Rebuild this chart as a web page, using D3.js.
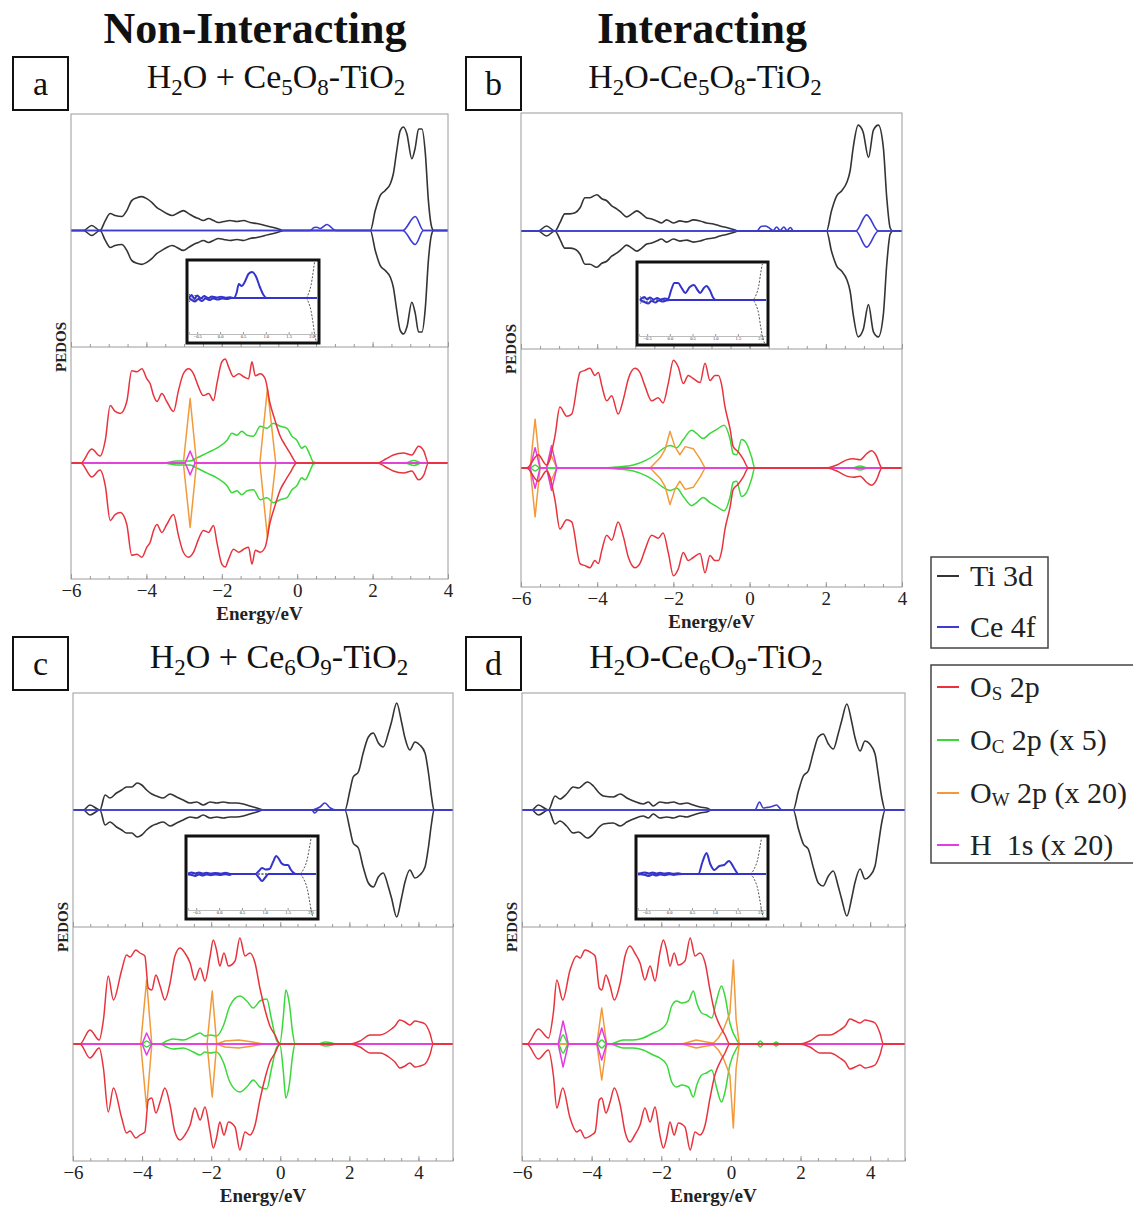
<!DOCTYPE html>
<html><head><meta charset="utf-8">
<script src="https://cdn.jsdelivr.net/npm/d3@7"></script>
<style>body{margin:0;background:#fff}svg{display:block}text{font-family:"Liberation Serif","Times New Roman",serif}</style>
</head><body>
<svg id="c" width="1133" height="1208"></svg>
<script>
// ---------------- DATA (energy eV, PEDOS arb. units) ----------------
// Panel a : H2O + Ce5O8-TiO2
const a_Ti3d = [[-6,0],[-5.67,0],[-5.45,0.5],[-5.23,0],[-5.09,1.0],[-4.96,1.7],[-4.83,1.5],[-4.65,1.4],[-4.52,2.0],[-4.39,3.0],[-4.25,3.3],[-4.12,3.4],[-3.99,3.2],[-3.85,2.8],[-3.72,2.3],[-3.59,2.0],[-3.46,1.7],[-3.32,1.5],[-3.19,1.7],[-3.02,2.0],[-2.88,1.7],[-2.75,1.4],[-2.62,1.2],[-2.49,1.0],[-2.35,1.2],[-2.22,1.0],[-2.09,0.8],[-1.95,0.9],[-1.78,1.0],[-1.60,0.9],[-1.42,1.0],[-1.25,0.8],[-1.07,0.7],[-0.85,0.5],[-0.63,0.3],[-0.45,0.1],[-0.36,0],[1.94,0],[2.07,2.0],[2.20,3.5],[2.33,4.0],[2.47,4.7],[2.55,5.7],[2.64,8.0],[2.73,10.0],[2.82,10.4],[2.91,9.7],[3.04,7.2],[3.13,8.3],[3.22,10.2],[3.31,10.2],[3.40,7.7],[3.48,3.0],[3.57,0.3],[3.62,0],[4,0]];
const a_Ce4f_up = [[-6,0],[0.34,0],[0.45,0.3],[0.52,0.33],[0.61,0.2],[0.70,0.4],[0.79,0.6],[0.88,0.4],[0.95,0.15],[1.03,0],[2.80,0],[3.13,1.4],[3.35,0],[4,0]];
const a_Ce4f_dn = [[-6,0],[2.80,0],[3.13,1.4],[3.35,0],[4,0]];
const a_Os2p = [[-6,0],[-5.74,0],[-5.45,1.4],[-5.23,0.7],[-5.09,2.3],[-4.96,5.8],[-4.83,5.2],[-4.69,5.0],[-4.52,6.2],[-4.39,9.3],[-4.25,9.2],[-4.12,9.5],[-3.99,8.5],[-3.90,8.0],[-3.81,6.8],[-3.72,6.2],[-3.59,7.0],[-3.46,6.2],[-3.28,5.2],[-3.15,7.3],[-3.02,9.0],[-2.88,9.5],[-2.75,9.0],[-2.62,7.7],[-2.49,6.8],[-2.35,7.0],[-2.22,6.3],[-2.13,8.0],[-2.00,10.2],[-1.91,10.5],[-1.82,9.7],[-1.69,8.7],[-1.55,9.0],[-1.42,8.7],[-1.29,8.5],[-1.20,10.2],[-1.11,8.8],[-0.98,9.0],[-0.85,8.5],[-0.72,6.0],[-0.58,4.2],[-0.45,2.7],[-0.32,1.8],[-0.19,1.0],[-0.01,0],[2.12,0],[2.35,0.4],[2.55,0.8],[2.82,1.0],[3.04,0.8],[3.22,1.7],[3.36,1.2],[3.48,0],[4,0]];
const a_Oc2p = [[-6,0],[-3.55,0],[-3.2,0.2],[-2.84,0.2],[-2.67,0.5],[-2.40,1.0],[-2.13,1.5],[-1.86,2.3],[-1.73,3.0],[-1.60,2.8],[-1.47,3.2],[-1.33,2.8],[-1.16,2.7],[-0.98,3.7],[-0.80,3.5],[-0.63,4.0],[-0.45,3.7],[-0.27,3.5],[-0.14,2.7],[-0.01,2.3],[0.12,1.5],[0.21,1.7],[0.34,0.8],[0.43,0.1],[0.55,0],[2.85,0],[3.1,0.25],[3.3,0],[4,0]];
const a_Ow2p = [[-6,0],[-3.02,0],[-2.84,6.5],[-2.67,0],[-0.99,0],[-0.79,7.5],[-0.57,0],[4,0]];
const a_H1s = [[-6,0],[-2.97,0],[-2.84,1.2],[-2.71,0],[4,0]];
const inA_Ce_up = [[-0.68,0],[-0.62,0.3],[-0.56,-0.1],[-0.5,0.25],[-0.42,-0.05],[-0.35,0.2],[-0.26,0.0],[-0.18,0.15],[-0.08,0.05],[0.02,0.12],[0.12,0.02],[0.22,0.08],[0.30,0],[0.36,0.5],[0.41,1.4],[0.47,1.2],[0.55,1.7],[0.62,2.4],[0.70,2.6],[0.78,2.2],[0.87,1.1],[0.95,0.3],[1.02,0],[2.12,0]];
const inA_Ce_dn = [[-0.68,0],[-0.62,0.2],[-0.55,0.35],[-0.48,0.1],[-0.4,0.3],[-0.32,0.05],[-0.24,0.2],[-0.15,0.05],[-0.05,0.15],[0.05,0.05],[0.15,0.1],[0.25,0.0],[0.3,0],[2.12,0]];
const inA_Ti = [[-0.68,0.4],[-0.62,0.1],[-0.55,0.25],[-0.45,0.05],[-0.35,0],[1.87,0],[1.94,0.5],[1.99,1.3],[2.03,2.4],[2.06,3.4],[2.12,4.6]];

// Panel b : H2O-Ce5O8-TiO2
const b_Ti3d = [[-6,0],[-5.55,0],[-5.33,0.5],[-5.11,0],[-4.98,0.8],[-4.85,1.7],[-4.72,1.7],[-4.58,1.8],[-4.45,2.3],[-4.32,3.3],[-4.19,3.3],[-4.01,3.6],[-3.88,3.2],[-3.75,3.0],[-3.62,2.5],[-3.49,2.2],[-3.36,1.8],[-3.23,1.4],[-3.09,1.7],[-2.96,2.0],[-2.83,1.7],[-2.70,1.3],[-2.57,1.2],[-2.44,1.0],[-2.31,0.8],[-2.18,1.1],[-2.0,0.8],[-1.83,1.0],[-1.65,0.9],[-1.48,1.1],[-1.30,1.0],[-1.13,0.8],[-0.95,0.7],[-0.78,0.5],[-0.56,0.3],[-0.38,0.1],[-0.30,0],[2.02,0],[2.15,2.0],[2.29,3.5],[2.42,4.0],[2.55,4.8],[2.64,6.0],[2.72,8.3],[2.85,10.5],[2.98,9.8],[3.12,7.3],[3.25,10.0],[3.38,10.5],[3.51,8.3],[3.60,3.3],[3.69,0.3],[3.76,0],[4,0]];
const b_Ce4f_up = [[-6,0],[0.19,0],[0.30,0.45],[0.42,0.5],[0.55,0.2],[0.62,0.05],[0.71,0.4],[0.80,0.05],[0.90,0.4],[0.98,0.05],[1.07,0.35],[1.15,0],[2.79,0],[3.07,1.6],[3.38,0],[4,0]];
const b_Ce4f_dn = [[-6,0],[2.79,0],[3.07,1.6],[3.38,0],[4,0]];
const b_Os2p = [[-6,0],[-5.85,0],[-5.55,1.3],[-5.33,0.3],[-5.11,3.1],[-4.98,6.0],[-4.80,5.1],[-4.67,5.3],[-4.45,9.4],[-4.32,9.6],[-4.19,9.8],[-4.06,9.1],[-3.97,9.4],[-3.88,8.1],[-3.75,6.6],[-3.62,7.1],[-3.45,5.3],[-3.31,6.8],[-3.18,8.8],[-3.01,9.8],[-2.88,9.4],[-2.75,8.1],[-2.57,6.6],[-2.40,6.9],[-2.27,6.4],[-2.13,8.4],[-2.0,10.6],[-1.87,9.9],[-1.74,8.3],[-1.61,9.1],[-1.48,8.8],[-1.30,8.4],[-1.17,10.3],[-1.04,8.6],[-0.91,9.1],[-0.82,9.1],[-0.73,8.1],[-0.65,6.1],[-0.51,3.8],[-0.43,2.1],[-0.30,1.6],[-0.17,0.9],[-0.03,0],[2.02,0],[2.29,0.3],[2.55,0.8],[2.72,0.9],[2.90,0.8],[3.07,1.4],[3.20,1.7],[3.34,1.1],[3.42,0.3],[3.47,0],[4,0]];
const b_Oc2p = [[-6,0],[-5.76,0],[-5.63,0.3],[-5.5,0],[-3.93,0],[-3.49,0.1],[-3.05,0.3],[-2.70,0.8],[-2.44,1.4],[-2.27,1.9],[-2.09,2.2],[-1.91,2.0],[-1.74,2.8],[-1.52,3.7],[-1.39,3.4],[-1.22,2.9],[-1.04,3.4],[-0.86,3.8],[-0.67,4.2],[-0.51,2.8],[-0.43,1.4],[-0.34,1.3],[-0.21,2.8],[-0.08,2.4],[0.05,1.1],[0.14,0],[2.7,0],[2.9,0.2],[3.1,0],[4,0]];
const b_Ow2p = [[-6,0],[-5.76,0],[-5.63,4.8],[-5.50,0],[-5.33,0],[-5.2,1.2],[-5.06,0],[-2.61,0],[-2.35,1.0],[-2.22,1.8],[-2.09,3.6],[-1.96,2.1],[-1.83,1.3],[-1.69,2.1],[-1.48,1.9],[-1.30,0.9],[-1.17,0],[4,0]];
const b_H1s = [[-6,0],[-5.76,0],[-5.63,2.0],[-5.50,0],[-5.33,0],[-5.20,2.2],[-5.06,0],[4,0]];
const inB_Ce_up = [[-0.66,0],[-0.56,0.3],[-0.5,0.05],[-0.44,0.25],[-0.36,0.05],[-0.28,0.2],[-0.2,0.05],[-0.12,0.15],[-0.04,0.1],[0.03,1.0],[0.10,1.7],[0.18,1.7],[0.26,1.2],[0.34,0.7],[0.44,1.3],[0.53,1.5],[0.61,1.0],[0.67,0.7],[0.75,1.2],[0.81,1.4],[0.88,1.0],[0.96,0.2],[1.02,0],[2.12,0]];
const inB_Ce_dn = [[-0.66,0],[-0.56,0.2],[-0.48,0.35],[-0.4,0.1],[-0.32,0.25],[-0.24,0.05],[-0.16,0.15],[-0.08,0.05],[0.0,0],[2.12,0]];
const inB_Ti = [[-0.66,0.35],[-0.55,0.1],[-0.48,0.2],[-0.4,0],[1.82,0],[1.9,0.5],[1.96,1.4],[2.0,2.6],[2.04,3.6],[2.12,4.6]];

// Panel c : H2O + Ce6O9-TiO2
const c_Ti3d = [[-6,0],[-5.70,0],[-5.51,0.5],[-5.22,0],[-5.07,1.5],[-4.93,1.2],[-4.74,1.7],[-4.59,2.0],[-4.45,2.3],[-4.30,2.3],[-4.14,2.7],[-4.01,2.5],[-3.87,2.0],[-3.72,1.6],[-3.58,1.4],[-3.39,1.2],[-3.19,1.6],[-3.0,1.3],[-2.81,1.0],[-2.61,0.7],[-2.42,0.8],[-2.23,0.5],[-2.03,0.8],[-1.84,0.7],[-1.65,0.8],[-1.46,0.7],[-1.27,0.7],[-1.07,0.6],[-0.88,0.4],[-0.68,0.2],[-0.49,0],[1.87,0],[2.02,2.0],[2.11,3.3],[2.26,3.8],[2.40,5.7],[2.55,7.3],[2.69,7.7],[2.84,6.7],[2.98,6.3],[3.13,7.7],[3.22,8.8],[3.37,10.7],[3.51,8.8],[3.61,7.2],[3.75,6.0],[3.90,6.8],[4.04,6.5],[4.19,5.7],[4.29,3.7],[4.38,1.3],[4.45,0],[5,0]];
const c_Ce4f_up = [[-6,0],[0.91,0],[1.05,0.15],[1.15,0.3],[1.29,0.7],[1.45,0.2],[1.63,0],[5,0]];
const c_Ce4f_dn = [[-6,0],[0.91,0],[1.0,0.3],[1.10,0],[5,0]];
const c_Os2p = [[-6,0],[-5.80,0],[-5.51,1.4],[-5.24,0.4],[-5.12,2.4],[-4.98,6.8],[-4.83,4.4],[-4.59,7.4],[-4.45,8.9],[-4.35,8.7],[-4.18,9.4],[-4.06,9.1],[-3.92,8.8],[-3.82,5.6],[-3.72,5.4],[-3.60,6.9],[-3.48,5.8],[-3.34,4.4],[-3.19,6.1],[-3.05,8.8],[-2.90,9.6],[-2.76,9.1],[-2.61,8.1],[-2.47,6.4],[-2.32,7.6],[-2.18,6.3],[-2.03,8.8],[-1.94,10.4],[-1.84,9.3],[-1.75,7.8],[-1.63,9.1],[-1.50,7.8],[-1.31,8.3],[-1.17,10.6],[-1.02,8.8],[-0.88,9.1],[-0.73,8.1],[-0.59,5.6],[-0.44,3.4],[-0.30,1.8],[-0.15,0.9],[-0.01,0],[2.02,0],[2.31,0.3],[2.60,0.9],[2.89,0.9],[3.18,1.4],[3.32,1.8],[3.46,2.4],[3.61,2.2],[3.75,1.9],[3.90,2.3],[4.04,2.2],[4.19,2.0],[4.33,1.1],[4.43,0],[5,0]];
const c_Oc2p = [[-6,0],[-4.0,0],[-3.87,0.3],[-3.72,0],[-3.48,0],[-3.29,0.3],[-3.10,0.5],[-2.81,0.4],[-2.52,0.8],[-2.32,1.1],[-2.18,0.8],[-2.03,0.9],[-1.84,0.8],[-1.65,1.8],[-1.46,3.8],[-1.17,4.8],[-0.97,4.3],[-0.78,3.6],[-0.59,4.3],[-0.39,4.5],[-0.25,2.4],[-0.10,0.3],[-0.01,0.1],[0.09,2.8],[0.16,5.4],[0.26,4.1],[0.36,1.1],[0.43,0],[1.1,0],[1.3,0.2],[1.5,0.1],[1.6,0],[5,0]];
const c_Ow2p = [[-6,0],[-4.04,0],[-3.87,6.4],[-3.72,0],[-2.12,0],[-1.97,5.3],[-1.84,0],[-1.6,0.3],[-1.2,0.4],[-0.8,0.2],[-0.5,0],[5,0]];
const c_H1s = [[-6,0],[-4.00,0],[-3.87,1.1],[-3.72,0],[5,0]];
const inC_Ce_up = [[-0.68,0],[-0.6,0.15],[-0.52,0.05],[-0.44,0.15],[-0.36,0.05],[-0.28,0.12],[-0.18,0.04],[-0.08,0.1],[0.04,0.03],[0.14,0.12],[0.22,0.03],[0.28,0],[0.80,0],[0.87,0.3],[0.94,0.6],[1.02,0.45],[1.10,0.5],[1.18,1.2],[1.25,1.8],[1.31,1.5],[1.36,1.1],[1.44,0.9],[1.51,0.9],[1.56,0.5],[1.61,0.2],[1.68,0],[2.12,0]];
const inC_Ce_dn = [[-0.68,0],[-0.6,0.1],[-0.52,0.2],[-0.44,0.05],[-0.36,0.15],[-0.28,0.05],[-0.18,0.12],[-0.08,0.04],[0.04,0.1],[0.14,0.03],[0.22,0.1],[0.28,0],[0.80,0],[0.87,0.35],[0.94,0.7],[1.01,0.35],[1.08,0],[2.12,0]];
const inC_Ti = [[-0.68,0.1],[-0.5,0.05],[-0.3,0],[1.75,0],[1.85,0.5],[1.93,1.5],[1.99,3.0],[2.03,4.0],[2.12,4.6]];

// Panel d : H2O-Ce6O9-TiO2
const d_Ti3d = [[-6,0],[-5.72,0],[-5.53,0.5],[-5.24,0],[-5.05,1.4],[-4.91,1.1],[-4.72,1.6],[-4.53,2.3],[-4.38,2.2],[-4.12,2.8],[-3.95,2.4],[-3.81,1.8],[-3.66,1.4],[-3.38,1.3],[-3.18,1.6],[-2.99,1.2],[-2.80,0.9],[-2.52,0.6],[-2.37,0.8],[-2.23,0.4],[-2.04,0.8],[-1.84,0.7],[-1.65,0.8],[-1.46,0.6],[-1.27,0.7],[-1.08,0.5],[-0.89,0.3],[-0.70,0.2],[-0.55,0],[1.79,0],[1.94,1.9],[2.08,3.4],[2.22,3.9],[2.37,5.8],[2.51,7.3],[2.65,7.6],[2.80,6.6],[2.94,6.1],[3.08,7.6],[3.18,8.9],[3.33,10.6],[3.47,8.8],[3.56,7.3],[3.71,5.9],[3.85,6.9],[3.99,6.6],[4.14,5.6],[4.23,3.6],[4.33,1.3],[4.43,0],[5,0]];
const d_Ce4f_up = [[-6,0],[0.69,0],[0.82,0.8],[0.93,0.2],[1.02,0.25],[1.12,0.3],[1.22,0.4],[1.31,0.5],[1.40,0.2],[1.46,0],[5,0]];
const d_Ce4f_dn = [[-6,0],[5,0]];
const d_Os2p = [[-6,0],[-5.86,0],[-5.53,1.5],[-5.24,0.6],[-5.10,3.1],[-5.00,6.4],[-4.83,4.4],[-4.62,7.4],[-4.43,8.8],[-4.33,8.6],[-4.19,9.4],[-4.00,9.1],[-3.90,8.8],[-3.78,5.6],[-3.71,5.4],[-3.59,6.9],[-3.47,5.8],[-3.35,4.4],[-3.18,6.1],[-3.04,8.8],[-2.90,9.8],[-2.76,9.1],[-2.61,8.1],[-2.47,6.4],[-2.32,7.8],[-2.18,6.3],[-2.04,9.1],[-1.94,10.4],[-1.84,9.3],[-1.75,7.8],[-1.63,9.1],[-1.51,7.9],[-1.32,8.3],[-1.17,10.6],[-1.03,8.8],[-0.89,9.1],[-0.74,8.1],[-0.60,5.4],[-0.46,3.1],[-0.31,1.8],[-0.17,0.9],[-0.03,0],[1.98,0],[2.27,0.3],[2.56,0.9],[2.85,0.9],[3.13,1.4],[3.28,1.8],[3.42,2.5],[3.57,2.3],[3.71,2.1],[3.85,2.4],[3.99,2.3],[4.14,2.1],[4.28,1.1],[4.38,0],[5,0]];
const d_Oc2p = [[-6,0],[-4.96,0],[-4.82,0.9],[-4.67,0],[-3.85,0],[-3.71,0.4],[-3.57,0],[-3.47,0],[-3.09,0.4],[-2.80,0.4],[-2.52,0.6],[-2.23,1.1],[-2.04,1.4],[-1.84,2.1],[-1.70,3.8],[-1.56,4.3],[-1.41,4.1],[-1.22,4.3],[-1.08,5.3],[-0.98,4.1],[-0.84,3.1],[-0.70,2.9],[-0.55,2.6],[-0.41,4.4],[-0.27,5.8],[-0.17,4.8],[-0.03,2.1],[0.17,0.4],[0.26,0],[0.75,0],[0.84,0.3],[0.95,0],[1.2,0],[1.3,0.2],[1.4,0],[5,0]];
const d_Ow2p = [[-6,0],[-3.85,0],[-3.71,3.6],[-3.57,0],[-1.4,0],[-1.0,0.4],[-0.7,0.2],[-0.50,0.1],[-0.36,0.6],[-0.22,1.4],[-0.03,3.1],[0.07,8.4],[0.15,2.4],[0.24,0],[5,0]];
const d_H1s = [[-6,0],[-4.96,0],[-4.82,2.3],[-4.67,0],[-3.85,0],[-3.71,1.6],[-3.57,0],[5,0]];
const inD_Ce_up = [[-0.68,0],[-0.52,0.15],[-0.44,0.05],[-0.36,0.15],[-0.28,0.05],[-0.2,0.12],[-0.1,0.04],[0.0,0.1],[0.1,0.03],[0.2,0.08],[0.3,0],[0.64,0],[0.73,1.2],[0.82,2.1],[0.90,1.0],[0.99,0.4],[1.10,0.8],[1.2,0.9],[1.31,1.3],[1.42,0.6],[1.52,0],[2.12,0]];
const inD_Ce_dn = [[-0.68,0],[-0.52,0.1],[-0.44,0.2],[-0.36,0.05],[-0.28,0.15],[-0.2,0.05],[-0.1,0.12],[0.0,0.03],[0.1,0.1],[0.2,0.03],[0.3,0],[2.12,0]];
const inD_Ti = [[-0.68,0.1],[-0.4,0],[1.77,0],[1.86,0.5],[1.94,1.5],[2.0,3.0],[2.04,4.0],[2.12,4.6]];

// Text / labels
const headers = ["Non-Interacting", "Interacting"];
const titleA = [["H"],["2",1],["O + Ce"],["5",1],["O"],["8",1],["-TiO"],["2",1]];
const titleB = [["H"],["2",1],["O-Ce"],["5",1],["O"],["8",1],["-TiO"],["2",1]];
const titleC = [["H"],["2",1],["O + Ce"],["6",1],["O"],["9",1],["-TiO"],["2",1]];
const titleD = [["H"],["2",1],["O-Ce"],["6",1],["O"],["9",1],["-TiO"],["2",1]];
const insetTickLabels = [-0.5, 0, 0.5, 1.0, 1.5, 2.0];
const legend1 = [{name:[["Ti 3d"]], c:"ti"}, {name:[["Ce 4f"]], c:"ce"}];
const legend2 = [{name:[["O"],["S",1],[" 2p"]], c:"os"}, {name:[["O"],["C",1],[" 2p (x 5)"]], c:"oc"}, {name:[["O"],["W",1],[" 2p (x 20)"]], c:"ow"}, {name:[["H\u00a0 1s (x 20)"]], c:"h"}];

// ---------------- STYLE / LAYOUT ----------------
const COL = {ti:"#343434", ce:"#3c3cd2", os:"#e8333d", oc:"#3ad83a", ow:"#f29a3a", h:"#e23ce2"};
const CURVE = {ti:d3.curveMonotoneX, ce:d3.curveMonotoneX, os:d3.curveMonotoneX, oc:d3.curveMonotoneX, ow:d3.curveLinear, h:d3.curveLinear};
const YMAX = 11.7;

const panels = [
 {key:"a", box:[13,57], title:titleA, tx:276, ty:88, l:71, r:448, t:114, m:347, b:579, xmax:4,
  upper:[[a_Ti3d,a_Ti3d,"ti"],[a_Ce4f_up,a_Ce4f_dn,"ce"]],
  lower:[[a_Oc2p,a_Oc2p,"oc"],[a_Ow2p,a_Ow2p,"ow"],[a_H1s,a_H1s,"h"],[a_Os2p,a_Os2p,"os"]],
  inset:{x:187,y:260,w:132,h:83,up:inA_Ce_up,dn:inA_Ce_dn,ti:inA_Ti}},
 {key:"b", box:[466,57], title:titleB, tx:705, ty:88, l:521, r:902, t:113, m:349, b:587, xmax:4,
  upper:[[b_Ti3d,b_Ti3d,"ti"],[b_Ce4f_up,b_Ce4f_dn,"ce"]],
  lower:[[b_Oc2p,b_Oc2p,"oc"],[b_Ow2p,b_Ow2p,"ow"],[b_H1s,b_H1s,"h"],[b_Os2p,b_Os2p,"os"]],
  inset:{x:637,y:262,w:131,h:83,up:inB_Ce_up,dn:inB_Ce_dn,ti:inB_Ti}},
 {key:"c", box:[13,637], title:titleC, tx:279, ty:668, l:73, r:453, t:693, m:927, b:1161, xmax:5,
  upper:[[c_Ti3d,c_Ti3d,"ti"],[c_Ce4f_up,c_Ce4f_dn,"ce"]],
  lower:[[c_Oc2p,c_Oc2p,"oc"],[c_Ow2p,c_Ow2p,"ow"],[c_H1s,c_H1s,"h"],[c_Os2p,c_Os2p,"os"]],
  inset:{x:186,y:836,w:132,h:83,up:inC_Ce_up,dn:inC_Ce_dn,ti:inC_Ti}},
 {key:"d", box:[466,637], title:titleD, tx:706, ty:668, l:522, r:905, t:693, m:927, b:1161, xmax:5,
  upper:[[d_Ti3d,d_Ti3d,"ti"],[d_Ce4f_up,d_Ce4f_dn,"ce"]],
  lower:[[d_Oc2p,d_Oc2p,"oc"],[d_Ow2p,d_Ow2p,"ow"],[d_H1s,d_H1s,"h"],[d_Os2p,d_Os2p,"os"]],
  inset:{x:636,y:836,w:132,h:83,up:inD_Ce_up,dn:inD_Ce_dn,ti:inD_Ti}}
];

const FONT = '"Liberation Serif","Times New Roman",serif';
const svg = d3.select("#c");
const defs = svg.append("defs");

function rich(textSel, segs, size, subSize, subDy) {
  let inSub = false;
  segs.forEach(([s, sub]) => {
    const t = textSel.append("tspan").text(s).attr("font-size", sub ? subSize : size);
    if (sub && !inSub) { t.attr("dy", subDy); inSub = true; }
    else if (!sub && inSub) { t.attr("dy", -subDy); inSub = false; }
  });
}

function drawSeries(g, x, y, up, dn, key, w, op) {
  const lu = d3.line().x(d => x(d[0])).y(d => y(d[1])).curve(CURVE[key]);
  const ld = d3.line().x(d => x(d[0])).y(d => y(-d[1])).curve(CURVE[key]);
  [lu(up), ld(dn)].forEach(p => g.append("path").attr("d", p).attr("fill", "none")
    .attr("stroke", COL[key]).attr("stroke-width", w).attr("stroke-opacity", op).attr("stroke-linejoin", "round"));
}

// headers
svg.append("text").attr("x", 255).attr("y", 43).attr("text-anchor", "middle").attr("font-size", 44).attr("font-weight", "bold").attr("fill", "#111").text(headers[0]);
svg.append("text").attr("x", 702).attr("y", 43).attr("text-anchor", "middle").attr("font-size", 44).attr("font-weight", "bold").attr("fill", "#111").text(headers[1]);

panels.forEach(P => {
  const g = svg.append("g");
  // label box
  g.append("rect").attr("x", P.box[0]).attr("y", P.box[1]).attr("width", 55).attr("height", 53).attr("fill", "none").attr("stroke", "#111").attr("stroke-width", 2);
  g.append("text").attr("x", P.box[0] + 27.5).attr("y", P.box[1] + 38).attr("text-anchor", "middle").attr("font-size", 34).attr("fill", "#111").text(P.key);
  // title
  const tt = g.append("text").attr("x", P.tx).attr("y", P.ty).attr("text-anchor", "middle").attr("fill", "#111");
  rich(tt, P.title, 34, 23, 7);

  const x = d3.scaleLinear().domain([-6, P.xmax]).range([P.l, P.r]);
  const yU = d3.scaleLinear().domain([-YMAX, YMAX]).range([P.m, P.t]);
  const yL = d3.scaleLinear().domain([-YMAX, YMAX]).range([P.b, P.m]);

  defs.append("clipPath").attr("id", "cu" + P.key).append("rect").attr("x", P.l).attr("y", P.t).attr("width", P.r - P.l).attr("height", P.m - P.t);
  defs.append("clipPath").attr("id", "cl" + P.key).append("rect").attr("x", P.l).attr("y", P.m).attr("width", P.r - P.l).attr("height", P.b - P.m);

  const gu = g.append("g").attr("clip-path", `url(#cu${P.key})`);
  P.upper.forEach(([up, dn, k]) => drawSeries(gu, x, yU, up, dn, k, 1.6, 1));
  const gl = g.append("g").attr("clip-path", `url(#cl${P.key})`);
  P.lower.forEach(([up, dn, k]) => drawSeries(gl, x, yL, up, dn, k, 1.5, 1));

  // frame
  g.append("rect").attr("x", P.l).attr("y", P.t).attr("width", P.r - P.l).attr("height", P.b - P.t).attr("fill", "none").attr("stroke", "#9a9a9a").attr("stroke-width", 1);
  g.append("line").attr("x1", P.l).attr("x2", P.r).attr("y1", P.m).attr("y2", P.m).attr("stroke", "#9a9a9a").attr("stroke-width", 1);

  // ticks
  const minor = d3.range(-6, P.xmax + 0.001, 0.5);
  const major = d3.range(-6, 4.001, 2);
  [P.m, P.b].forEach(yy => {
    const ax = g.append("g").attr("transform", `translate(0,${yy})`).call(d3.axisBottom(x).tickValues(minor).tickSize(-3).tickFormat(""));
    ax.select(".domain").remove(); ax.selectAll("line").attr("stroke", "#999");
  });
  const axM = g.append("g").attr("transform", `translate(0,${P.b})`)
    .call(d3.axisBottom(x).tickValues(major).tickSize(-5).tickPadding(5).tickFormat(d => d < 0 ? "\u2212" + Math.abs(d) : String(d)));
  axM.select(".domain").remove();
  axM.selectAll("line").attr("stroke", "#999");
  axM.selectAll("text").attr("font-size", 19).attr("font-family", FONT).attr("fill", "#222");
  const axU = g.append("g").attr("transform", `translate(0,${P.m})`).call(d3.axisBottom(x).tickValues(major).tickSize(-5).tickFormat(""));
  axU.select(".domain").remove(); axU.selectAll("line").attr("stroke", "#999");

  g.append("text").attr("x", (P.l + P.r) / 2).attr("y", P.b + 41).attr("text-anchor", "middle").attr("font-size", 19).attr("font-weight", "bold").attr("fill", "#222").text("Energy/eV");
  g.append("text").attr("transform", `translate(${P.l - 10},${P.m}) rotate(-90)`).attr("dy", "0.35em").attr("text-anchor", "middle").attr("font-size", 15).attr("font-weight", "bold").attr("fill", "#222").text("PEDOS");

  // inset
  const I = P.inset;
  g.append("rect").attr("x", I.x).attr("y", I.y).attr("width", I.w).attr("height", I.h).attr("fill", "#fff");
  const ix = d3.scaleLinear().domain([-0.68, 2.12]).range([I.x + 2, I.x + I.w - 2]);
  const iy = d3.scaleLinear().domain([-4.5, 3.8]).range([I.y + I.h, I.y]);
  defs.append("clipPath").attr("id", "ci" + P.key).append("rect").attr("x", I.x + 2).attr("y", I.y + 2).attr("width", I.w - 4).attr("height", I.h - 4);
  const gi = g.append("g").attr("clip-path", `url(#ci${P.key})`);
  const iax = gi.append("g").attr("transform", `translate(0,${I.y + I.h - 9})`)
    .call(d3.axisBottom(ix).tickValues(insetTickLabels).tickSize(-2).tickPadding(1).tickFormat(d3.format(".1f")));
  iax.select(".domain").attr("stroke", "#bbb");
  iax.selectAll("line").attr("stroke", "#999");
  iax.selectAll("text").attr("font-size", 4.5).attr("font-family", FONT).attr("fill", "#333");
  const tl = d3.line().x(d => ix(d[0])).y(d => iy(d[1])).curve(d3.curveMonotoneX);
  const tld = d3.line().x(d => ix(d[0])).y(d => iy(-d[1])).curve(d3.curveMonotoneX);
  [tl(I.ti), tld(I.ti)].forEach(p => gi.append("path").attr("d", p).attr("fill", "none").attr("stroke", "#555").attr("stroke-width", 1).attr("stroke-dasharray", "2,1.5"));
  [tl(I.up), tld(I.dn)].forEach(p => gi.append("path").attr("d", p).attr("fill", "none").attr("stroke", "#3434cc").attr("stroke-width", 2).attr("stroke-linejoin", "round"));
  g.append("rect").attr("x", I.x).attr("y", I.y).attr("width", I.w).attr("height", I.h).attr("fill", "none").attr("stroke", "#111").attr("stroke-width", 3);
});

// legends
function legend(items, bx, by, bw, bh, rows) {
  const g = svg.append("g");
  g.append("rect").attr("x", bx).attr("y", by).attr("width", bw).attr("height", bh).attr("fill", "#fff").attr("stroke", "#444").attr("stroke-width", 1.5);
  items.forEach((it, i) => {
    const yy = rows[i];
    g.append("line").attr("x1", 937).attr("x2", 959).attr("y1", yy).attr("y2", yy).attr("stroke", COL[it.c]).attr("stroke-width", 2);
    const t = g.append("text").attr("x", 970).attr("y", yy + 10).attr("fill", "#222").style("white-space", "pre");
    rich(t, it.name, 30, 19, 3);
  });
}
legend(legend1, 931, 557, 117, 91, [576, 627]);
legend(legend2, 931, 665, 215, 198, [687, 740, 793, 845]);
</script>
</body></html>
